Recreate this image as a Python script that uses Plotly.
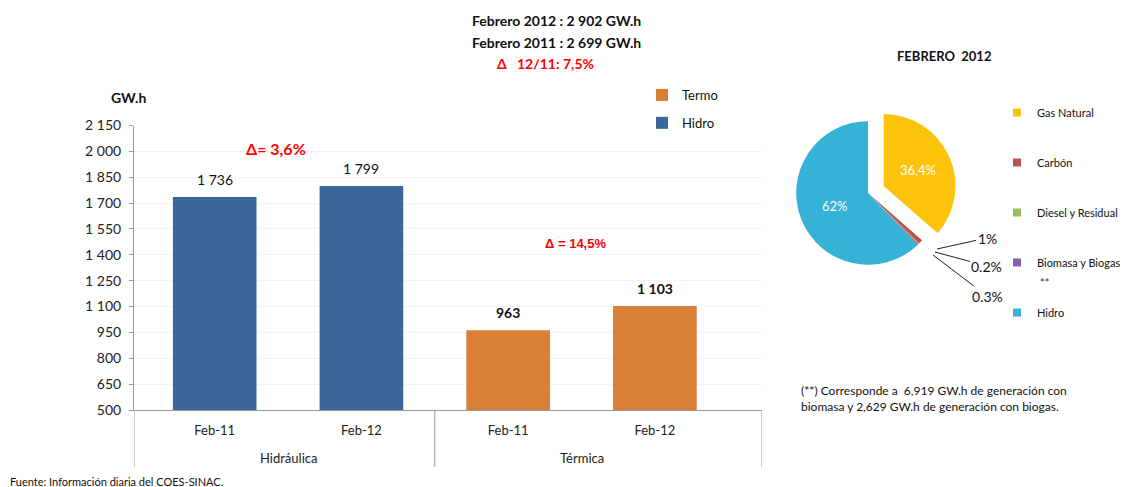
import plotly.graph_objects as go

# ---------------- data ----------------
periods = ["Feb-11", "Feb-12"]
groups = ["Hidráulica", "Térmica"]
hidro_values = [1736, 1799]
termo_values = [963, 1103]
y_ticks = list(range(500, 2151, 150))

pie_labels = ["Gas Natural", "Carbón", "Diesel y Residual", "Biomasa y Biogas", "Hidro"]
pie_values = [36.4, 1.0, 0.2, 0.3, 62.0]
pie_text = ["36,4%", "", "", "", "62%"]
small_labels = ["1%", "0.2%", "0.3%"]

title_lines = ["Febrero 2012 : 2 902 GW.h", "Febrero 2011 : 2 699 GW.h"]
delta_total = "Δ   12/11: 7,5%"
delta_groups = ["Δ= 3,6%", "Δ = 14,5%"]
footnote = "(**) Corresponde a  6,919 GW.h de generación con<br>biomasa y 2,629 GW.h de generación con biogas."
source = "Fuente: Información diaria del COES-SINAC."

# ---------------- styles ----------------
# page body has an 8px margin; the figure is sized to the visible window area
OX, OY = 8, 8
FW, FH = 1120, 479
FONT = "Lato"
C_HIDRO = "#3d6699"
C_TERMO = "#d97f36"
pie_colors = ["#fcc30a", "#c0504d", "#9bbb59", "#8064a2", "#36b2d6"]

def px(x):
    return (x - OX) / FW

def py(y):
    return 1 - (y - OY) / FH

x_hidro = [0, 1]
x_termo = [2, 3]
x_range = [-0.55, 3.73]

fig = go.Figure()

fig.add_trace(go.Bar(
    x=x_hidro, y=[v - 500 for v in hidro_values], base=500, width=0.57,
    marker=dict(color=C_HIDRO, line=dict(width=0)),
    name="Hidro", legend="legend", legendgroup="hidro", legendrank=2,
    hovertemplate="%{customdata}<extra></extra>", customdata=hidro_values,
))
fig.add_trace(go.Bar(
    x=x_termo, y=[v - 500 for v in termo_values], base=500, width=0.57,
    marker=dict(color=C_TERMO, line=dict(width=0)),
    name="Termo", legend="legend", legendgroup="termo", legendrank=1,
    hovertemplate="%{customdata}<extra></extra>", customdata=termo_values,
))

# pie chart
pie_cx, pie_cy, pie_size = 868, 193, 178
fig.add_trace(go.Pie(
    labels=pie_labels, values=pie_values, sort=False, direction="clockwise",
    rotation=0, pull=[0.24, 0, 0, 0, 0],
    marker=dict(colors=pie_colors, line=dict(width=0)),
    text=pie_text, textinfo="text", textposition="inside",
    insidetextfont=dict(color="white", size=13, family=FONT),
    domain=dict(x=[px(pie_cx - pie_size / 2), px(pie_cx + pie_size / 2)],
                y=[py(pie_cy + pie_size / 2), py(pie_cy - pie_size / 2)]),
    showlegend=False, hoverinfo="label+percent",
))

# legend entries for pie (separate legend)
for lab, col in zip(pie_labels, pie_colors):
    fig.add_trace(go.Scatter(
        x=[None], y=[None], mode="markers",
        marker=dict(symbol="square", size=8, color=col),
        name=lab, legend="legend2", legendgroup=lab, hoverinfo="skip",
    ))

annotations = []

def note(x, y, text, size, color="#111", family=FONT, xanchor="center", **kw):
    d = dict(x=px(x), y=py(y), xref="paper", yref="paper", text=text,
             showarrow=False, xanchor=xanchor, yanchor="middle",
             font=dict(size=size, color=color, family=family))
    d.update(kw)
    annotations.append(d)

# bar value labels
for xs, vals, bold in [(x_hidro, hidro_values, False), (x_termo, termo_values, True)]:
    for xv, v in zip(xs, vals):
        t = f"{v:,}".replace(",", " ")
        annotations.append(dict(
            x=xv, y=v, xref="x", yref="y", text=f"<b>{t}</b>" if bold else t,
            showarrow=False, xanchor="center", yanchor="bottom", yshift=7,
            font=dict(size=14, color="#111", family=FONT)))

# group labels under axis
for gx, g in zip([0.5, 2.5], groups):
    annotations.append(dict(x=gx, y=py(458), xref="x", yref="paper", text=g,
                            showarrow=False, xanchor="center", yanchor="middle",
                            font=dict(size=13, color="#222", family=FONT)))

# delta annotations
note(276, 148, f"<b>{delta_groups[0]}</b>", 16, color="#ff0000")
note(575, 243, f"<b>{delta_groups[1]}</b>", 13, color="#ff0000", family="Liberation Sans")

# title lines
for yy, t in zip([20, 43], title_lines):
    note(556, yy, f"<b>{t}</b>", 14)
note(545, 64, f"<b>{delta_total}</b>", 14, color="#ff0000")

# unit label
note(128, 97, "<b>GW.h</b>", 14)

# pie title
note(944, 56, "<b>FEBRERO  2012</b>", 13)

# small pie slice labels
for (lx, ly), (tx, ty), lab in zip([(937, 249), (935, 252), (933, 255)],
                                   [(987, 238), (987, 266), (987, 296)], small_labels):
    annotations.append(dict(x=px(lx), y=py(ly), xref="paper", yref="paper",
                            ax=tx - lx, ay=ty - ly, text=lab, showarrow=True,
                            arrowhead=0, arrowwidth=1, arrowcolor="#222",
                            font=dict(size=14, color="#111", family=FONT)))

note(1044, 282, "**", 11, color="#333")

# footnote & source
note(799, 398, footnote, 12, xanchor="left", align="left")
note(8, 481, source, 11, xanchor="left")

# separator lines under category axis
shapes = []
for xv in [x_range[0], 1.5, x_range[1]]:
    shapes.append(dict(type="line", xref="x", yref="paper", x0=xv, x1=xv,
                       y0=py(410), y1=py(467), line=dict(color="#9a9a9a", width=1)))

fig.update_layout(
    width=FW, height=FH,
    margin=dict(l=0, r=0, t=0, b=0, autoexpand=False),
    paper_bgcolor="white", plot_bgcolor="white",
    separators=", ",
    barmode="overlay",
    font=dict(family=FONT, size=13, color="#111"),
    xaxis=dict(domain=[px(134), px(762)], range=x_range,
               tickvals=x_hidro + x_termo, ticktext=periods + periods,
               showgrid=False, zeroline=False, showline=True, linecolor="#9a9a9a",
               ticks="", ticklabelstandoff=8,
               tickfont=dict(size=13, color="#222", family=FONT)),
    yaxis=dict(domain=[py(410), py(125.5)], range=[500, 2150],
               tickvals=y_ticks, tickformat=",d",
               showgrid=True, gridcolor="#f4f4f4", zeroline=False,
               showline=True, linecolor="#9a9a9a", ticks="outside", ticklen=4,
               tickcolor="#9a9a9a", ticklabelstandoff=5,
               tickfont=dict(size=14, color="#222", family=FONT)),
    legend=dict(x=px(642), y=py(80), xanchor="left", yanchor="top",
                tracegroupgap=8, font=dict(size=13, family=FONT, color="#111"),
                bgcolor="rgba(0,0,0,0)"),
    legend2=dict(x=px(997), y=py(98), xanchor="left", yanchor="top",
                 tracegroupgap=31, font=dict(size=11, family=FONT, color="#111"),
                 bgcolor="rgba(0,0,0,0)"),
    annotations=annotations,
    shapes=shapes,
    showlegend=True,
)

fig.write_html("out.html")
